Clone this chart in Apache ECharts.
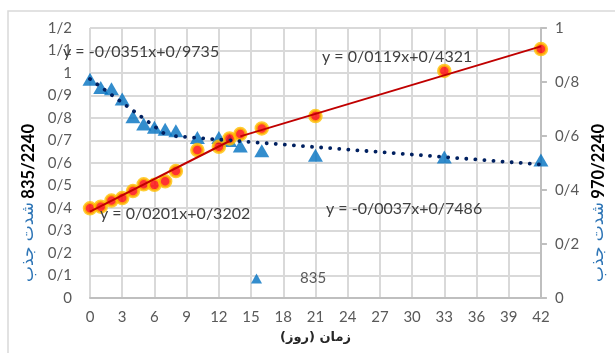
<!DOCTYPE html>
<html>
<head>
<meta charset="utf-8">
<script src="https://cdn.jsdelivr.net/npm/echarts@6/dist/echarts.min.js"></script>
<style>
html,body{margin:0;padding:0;background:#fff;}
#chart{width:615px;height:353px;}
</style>
</head>
<body>
<div id="chart"></div>
<script>
// ---- data ----
const days = [0, 1, 2, 3, 4, 5, 6, 7, 8, 10, 12, 13, 14, 16, 21, 33, 42];
const abs835 = [0.972, 0.936, 0.930, 0.885, 0.806, 0.773, 0.759, 0.750, 0.743, 0.713, 0.713, 0.700, 0.676, 0.654, 0.634, 0.627, 0.613];
const abs970 = [0.332, 0.338, 0.361, 0.370, 0.396, 0.421, 0.419, 0.432, 0.470, 0.548, 0.560, 0.591, 0.607, 0.628, 0.674, 0.841, 0.922];

// trendlines (linear, as labelled)
const trendOf = ['835', '835', '970', '970'];
const trendSlope = [-0.0351, -0.0037, 0.0201, 0.0119];
const trendIntercept = [0.9735, 0.7486, 0.3202, 0.4321];
const trendStart = [0, 8, 0, 14];
const trendEnd = [7, 42, 13, 42];
const trendLabels = ['y = -0/0351x+0/9735', 'y = -0/0037x+0/7486', 'y = 0/0201x+0/3202', 'y = 0/0119x+0/4321'];

// tick labels
const xTicks = [0, 3, 6, 9, 12, 15, 18, 21, 24, 27, 30, 33, 36, 39, 42];
const leftTicks = ['0', '0/1', '0/2', '0/3', '0/4', '0/5', '0/6', '0/7', '0/8', '0/9', '1', '1/1', '1/2'];
const rightTicks = ['0', '0/2', '0/4', '0/6', '0/8', '1'];

const xTitle = 'زمان (روز)';
const leftTitleFa = 'شدت جذب';
const leftTitleNum = '835/2240';
const rightTitleFa = 'شدت جذب';
const rightTitleNum = '970/2240';

// ---- chart ----
const chart = echarts.init(document.getElementById('chart'));
const FONT = 'Lato, "DejaVu Sans", sans-serif';
const FA = '"DejaVu Sans", sans-serif';

const trendSeries = trendSlope.map((a, i) => ({
  type: 'line',
  name: 'trend' + i,
  yAxisIndex: trendOf[i] === '835' ? 0 : 1,
  data: [[trendStart[i], a * trendStart[i] + trendIntercept[i]], [trendEnd[i], a * trendEnd[i] + trendIntercept[i]]],
  showSymbol: false,
  silent: true,
  z: 5,
  lineStyle: trendOf[i] === '835'
    ? { color: '#002060', width: 3.8, type: [0.1, 9], cap: 'round' }
    : { color: '#C00000', width: 2 }
}));

// equation label positions (pixels)
const eqPos = [[63, 44], [326, 201], [100, 206], [322, 49]];

const titleRich = {
  fa: { fontFamily: FA, fontSize: 17, color: '#2E75B6' },
  num: { fontFamily: FONT, fontSize: 16.5, fontWeight: 'bold', color: '#000' },
  sp: { width: 80 }
};

chart.setOption({
  animation: false,
  backgroundColor: '#fff',
  grid: { left: 90, right: 67, top: 28, bottom: 55 },
  legend: {
    data: [{ name: '835', icon: 'triangle' }],
    left: 246, top: 266,
    itemWidth: 11, itemHeight: 10,
    textStyle: { fontFamily: FONT, fontSize: 15, color: '#595959', padding: [0, 0, 0, 33] }
  },
  xAxis: {
    type: 'value', min: 0, max: 42, interval: 3,
    name: xTitle, nameLocation: 'middle', nameGap: 33,
    nameTextStyle: { fontFamily: FA, fontSize: 13, fontWeight: 'bold', color: '#262626' },
    axisLine: { show: true, lineStyle: { color: '#bfbfbf', width: 2 } },
    axisTick: { show: false },
    axisLabel: { margin: 12, fontFamily: FONT, fontSize: 15, color: '#595959',
      formatter: v => String(xTicks[Math.round(v / 3)]) },
    splitLine: { show: true, lineStyle: { color: '#d9d9d9', width: 2 } }
  },
  yAxis: [
    {
      type: 'value', min: 0, max: 1.2, interval: 0.1, position: 'left',
      name: '{fa|' + leftTitleFa + '} {num|' + leftTitleNum + '}{sp|}',
      nameLocation: 'middle', nameGap: 48,
      nameTextStyle: { rich: titleRich },
      axisLine: { show: false },
      axisTick: { show: false },
      axisLabel: { margin: 18, fontFamily: FONT, fontSize: 15, color: '#595959',
        formatter: v => leftTicks[Math.round(v * 10)] },
      splitLine: { show: true, lineStyle: { color: '#d9d9d9', width: 2 } }
    },
    {
      type: 'value', min: 0, max: 1, interval: 0.2, position: 'right',
      name: '{fa|' + rightTitleFa + '} {num|' + rightTitleNum + '}{sp|}',
      nameLocation: 'middle', nameGap: 42,
      nameTextStyle: { rich: titleRich },
      axisLine: { show: true, lineStyle: { color: '#bfbfbf', width: 2 } },
      axisTick: { show: true, length: 6, lineStyle: { color: '#bfbfbf', width: 2 } },
      axisLabel: { margin: 14, fontFamily: FONT, fontSize: 15, color: '#595959',
        formatter: v => rightTicks[Math.round(v * 5)] },
      splitLine: { show: false }
    }
  ],
  graphic: [
    { type: 'rect', z: -10, silent: true,
      shape: { x: 8, y: 11, width: 660, height: 400 },
      style: { fill: 'none', stroke: '#d9d9d9', lineWidth: 1.5 } }
  ].concat(trendLabels.map((t, i) => ({
    type: 'text', left: eqPos[i][0], top: eqPos[i][1], z: 20, silent: true,
    style: { text: t, fontFamily: FONT, fontSize: 16, fill: '#404040' }
  }))),
  series: [
    {
      type: 'scatter', name: '835', yAxisIndex: 0,
      data: days.map((d, i) => [d, abs835[i]]),
      symbol: 'triangle', symbolSize: [15, 13], z: 2,
      itemStyle: { color: '#0070C0' }
    },
    {
      type: 'scatter', name: '970', yAxisIndex: 1,
      data: days.map((d, i) => [d, abs970[i]]),
      symbol: 'circle', symbolSize: 11.5, z: 3,
      itemStyle: { color: '#FF0000', borderColor: '#FFC000', borderWidth: 3 }
    }
  ].concat(trendSeries)
});
</script>
</body>
</html>
